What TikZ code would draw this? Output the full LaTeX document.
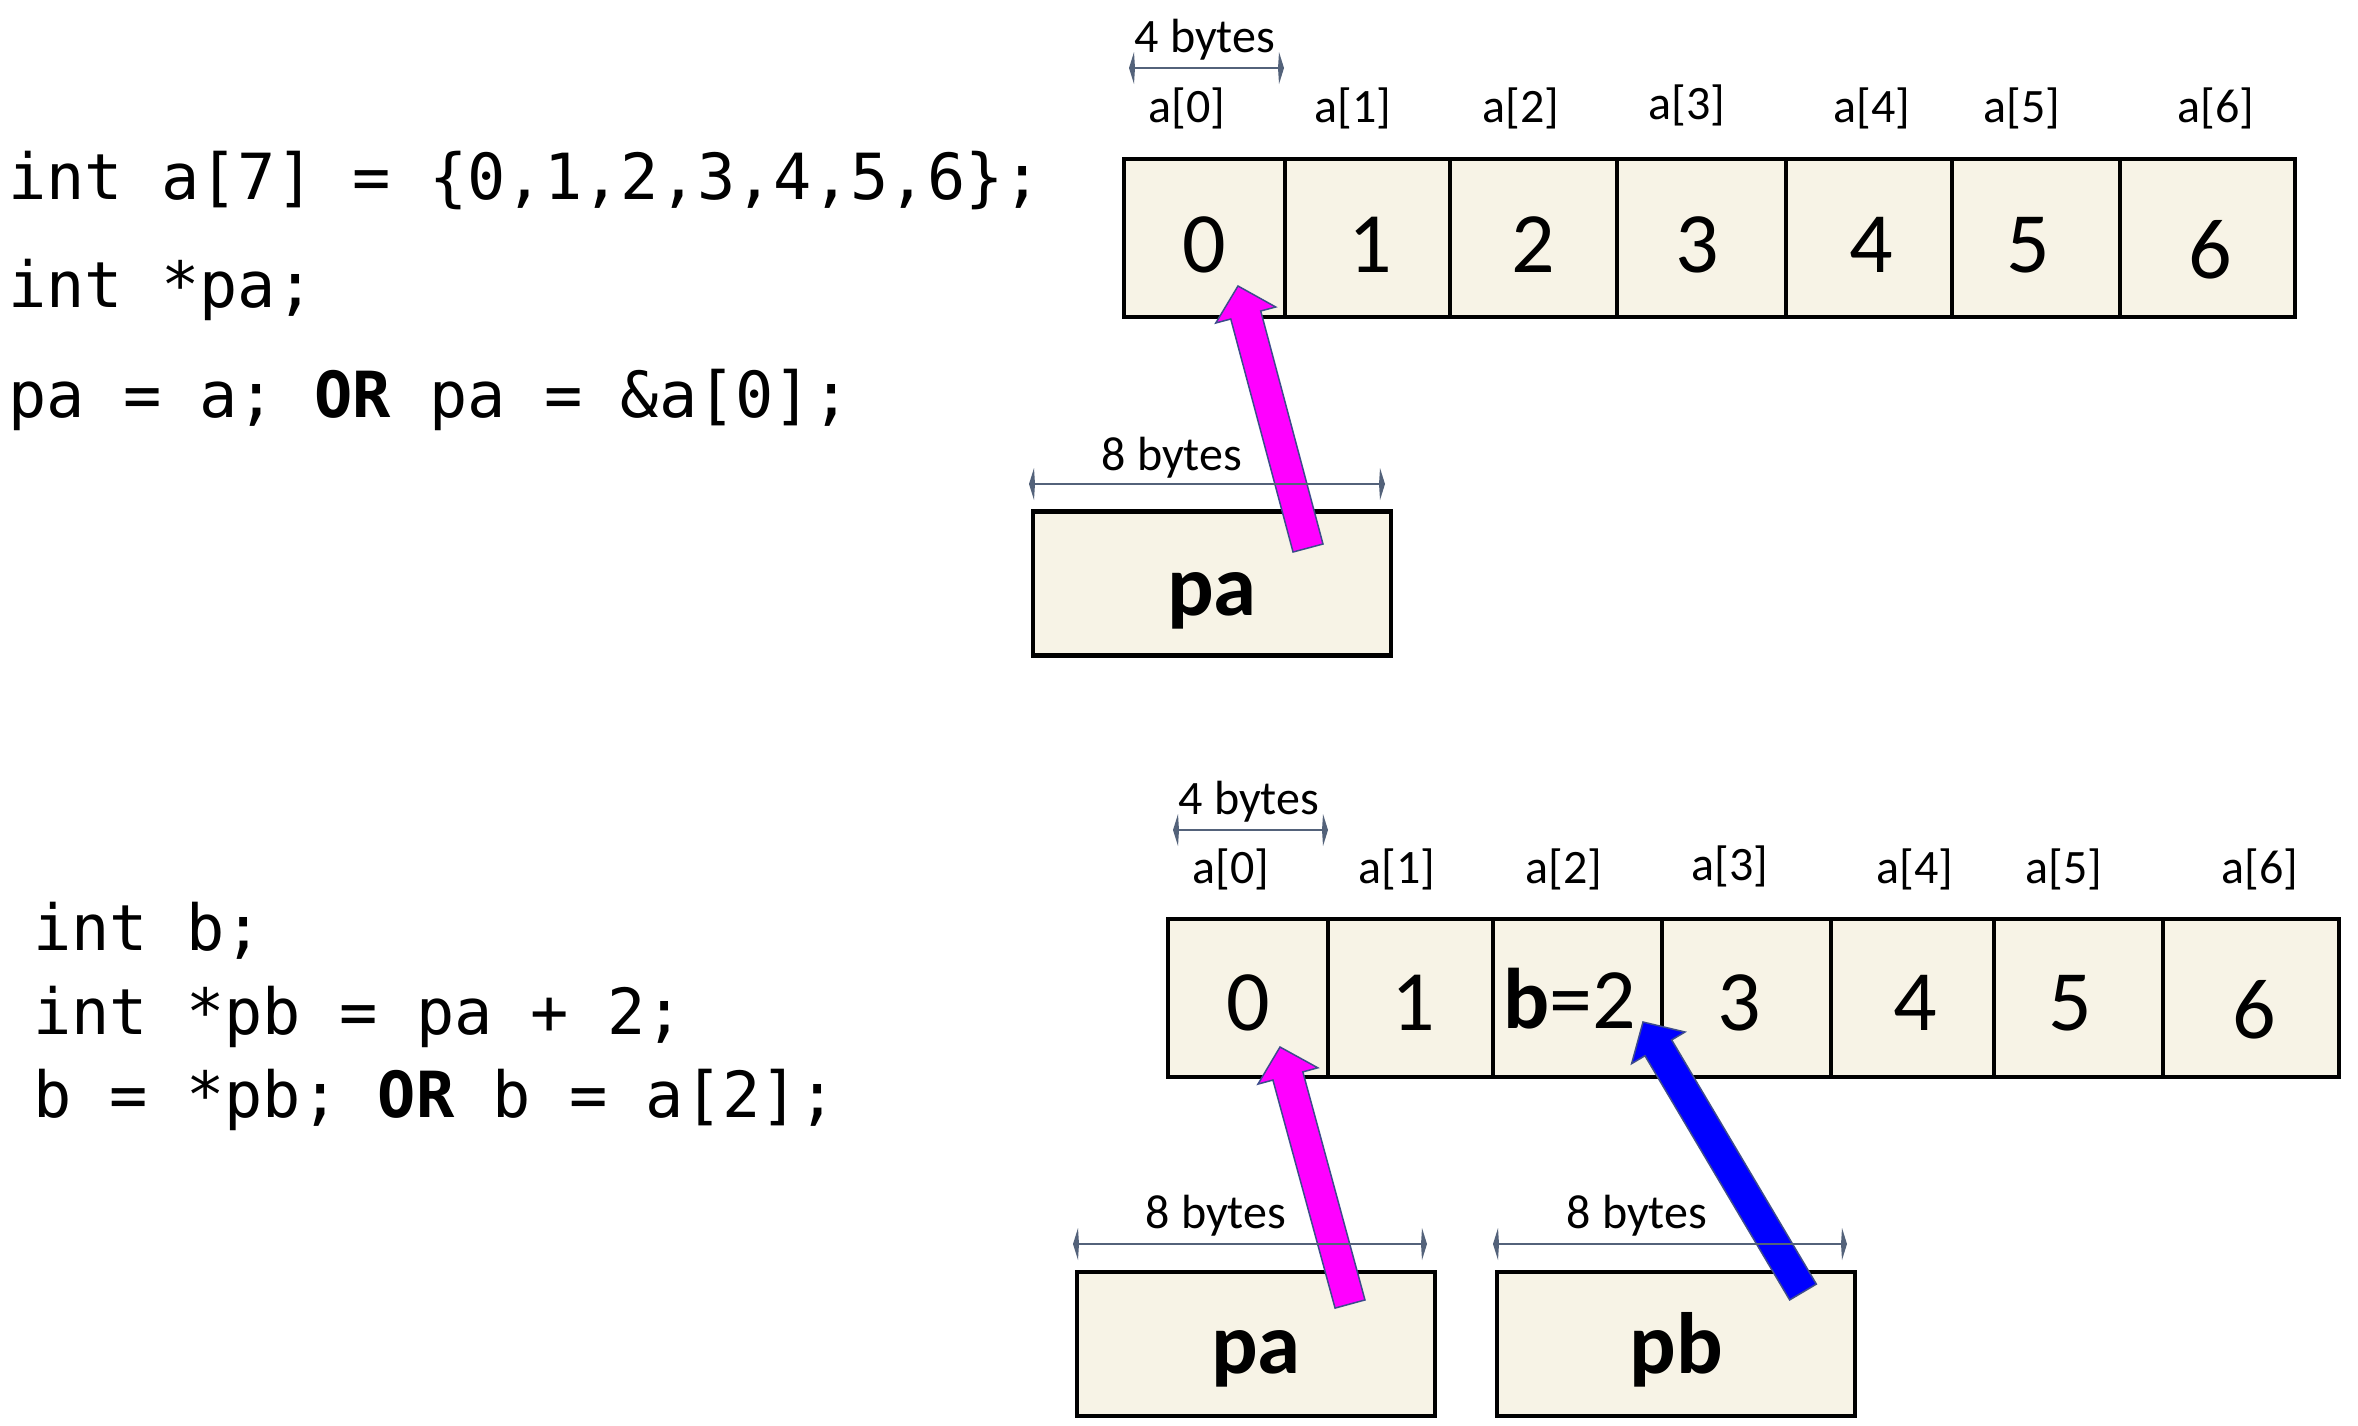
\documentclass[tikz,border=0pt]{standalone}
\usepackage{fontspec}
\setmainfont{Carlito}
\newfontfamily\codefont{DejaVu Sans Mono}
\usetikzlibrary{arrows.meta,calc}
\definecolor{cream}{HTML}{F7F3E6}
\definecolor{dimc}{HTML}{53627A}
\definecolor{arrowedge}{HTML}{3E4C8C}
\definecolor{mag}{HTML}{FF00FF}
\definecolor{blu}{HTML}{0000FF}
\newcommand\ptrarrow[4]{%
  \coordinate (#1B) at ($(#3)!30pt!(#2)$);
  \draw[blockarrow, fill=#4] ($(#2)!15.5pt!90:(#3)$) -- ($(#1B)!15.5pt!90:(#3)$) -- ($(#1B)!31pt!90:(#3)$) -- (#3) -- ($(#1B)!31pt!-90:(#3)$) -- ($(#1B)!15.5pt!-90:(#3)$) -- ($(#2)!15.5pt!-90:(#3)$) -- cycle;}
\newcommand\dimarrow[2]{%
  \draw[dimline] (#1) -- (#2);
  \fill[dimc] (#1) -- ($(#1)+(5,-16)$) -- ($(#1)+(6,0)$) -- ($(#1)+(5,16)$) -- cycle;
  \fill[dimc] (#2) -- ($(#2)+(-5,-16)$) -- ($(#2)+(-6,0)$) -- ($(#2)+(-5,16)$) -- cycle;}
\begin{document}
\begin{tikzpicture}[x=1pt,y=-1pt,
  cellbox/.style={draw=black, fill=cream, line width=4.5pt, inner sep=0, minimum height=158pt},
  ptrbox/.style={draw=black, fill=cream, line width=4.5pt, inner sep=0, minimum width=358pt, minimum height=144pt},
  digit/.style={font=\fontsize{86}{90}\selectfont, anchor=base, inner sep=0},
  ptrname/.style={font=\fontsize{87}{90}\selectfont\bfseries, anchor=base, inner sep=0},
  idx/.style={font=\fontsize{48}{52}\selectfont, anchor=base, inner sep=0},
  code/.style={font=\codefont\fontsize{63.6}{70}\selectfont, anchor=base west, inner sep=0},
  dimline/.style={draw=dimc, line width=2.5pt},
  blockarrow/.style={draw=arrowedge, line width=1.5pt, line join=miter},
]
\useasboundingbox[fill=white] (0,0) rectangle (2358,1425);

% ---------- top array ----------
\node[cellbox, minimum width=161pt] (ta0) at (1204.5,238) {};
\node[cellbox, minimum width=165pt] (ta1) at (1367.5,238) {};
\node[cellbox, minimum width=167pt] (ta2) at (1533.5,238) {};
\node[cellbox, minimum width=169pt] (ta3) at (1701.5,238) {};
\node[cellbox, minimum width=166pt] (ta4) at (1869,238) {};
\node[cellbox, minimum width=168pt] (ta5) at (2036,238) {};
\node[cellbox, minimum width=175pt] (ta6) at (2207.5,238) {};

% ---------- bottom array ----------
\node[cellbox, minimum width=160pt] (ba0) at (1248,998) {};
\node[cellbox, minimum width=165pt] (ba1) at (1410.5,998) {};
\node[cellbox, minimum width=169pt] (ba2) at (1577.5,998) {};
\node[cellbox, minimum width=169pt] (ba3) at (1746.5,998) {};
\node[cellbox, minimum width=163pt] (ba4) at (1912.5,998) {};
\node[cellbox, minimum width=169pt] (ba5) at (2078.5,998) {};
\node[cellbox, minimum width=176pt] (ba6) at (2251,998) {};

% ---------- pointer boxes ----------
\node[ptrbox] (pa1) at (1212,583.5) {};
\node[ptrbox] (pa2) at (1256,1344) {};
\node[ptrbox] (pb2) at (1676,1344) {};

% ---------- arrows ----------
\coordinate (paTailA) at (1308,548);
\coordinate (paTipA) at (1238,286);
\coordinate (paTailB) at (1350,1304);
\coordinate (paTipB) at (1280,1047);
\coordinate (pbTail) at (1803,1292);
\coordinate (pbTip) at (1643,1022);
\ptrarrow{arA}{paTailA}{paTipA}{mag}
\ptrarrow{arB}{paTailB}{paTipB}{mag}
\ptrarrow{arC}{pbTail}{pbTip}{blu}

% ---------- dimension lines ----------
\coordinate (d1a) at (1129,68);  \coordinate (d1b) at (1284,68);
\coordinate (d2a) at (1029,484); \coordinate (d2b) at (1385,484);
\coordinate (d3a) at (1173,830); \coordinate (d3b) at (1328,830);
\coordinate (d4a) at (1073,1244); \coordinate (d4b) at (1427,1244);
\coordinate (d5a) at (1493,1244); \coordinate (d5b) at (1847,1244);
\dimarrow{d1a}{d1b}
\dimarrow{d2a}{d2b}
\dimarrow{d3a}{d3b}
\dimarrow{d4a}{d4b}
\dimarrow{d5a}{d5b}

% ---------- size labels ----------
\node[idx] (s1) at (1205,52) {4 bytes};
\node[idx] (s2) at (1172,470) {8 bytes};
\node[idx] (s3) at (1249,814) {4 bytes};
\node[idx] (s4) at (1216,1228) {8 bytes};
\node[idx] (s5) at (1637,1228) {8 bytes};

% ---------- index labels ----------
\node[idx] (ti0) at (1187,122) {a[0]};
\node[idx] (ti1) at (1353,122) {a[1]};
\node[idx] (ti2) at (1521,122) {a[2]};
\node[idx] (ti3) at (1687,119) {a[3]};
\node[idx] (ti4) at (1872,122) {a[4]};
\node[idx] (ti5) at (2022,122) {a[5]};
\node[idx] (ti6) at (2216,122) {a[6]};
\node[idx] (bi0) at (1231,883) {a[0]};
\node[idx] (bi1) at (1397,883) {a[1]};
\node[idx] (bi2) at (1564,883) {a[2]};
\node[idx] (bi3) at (1730,880) {a[3]};
\node[idx] (bi4) at (1915,883) {a[4]};
\node[idx] (bi5) at (2064,883) {a[5]};
\node[idx] (bi6) at (2260,883) {a[6]};

% ---------- cell values ----------
\node[digit] (tv0) at (1204,272) {0};
\node[digit] (tv1) at (1370,272) {1};
\node[digit] (tv2) at (1533,272) {2};
\node[digit] (tv3) at (1697,272) {3};
\node[digit] (tv4) at (1871,272) {4};
\node[digit] (tv5) at (2028,272) {5};
\node[digit] (tv6) at (2210,278) {6};
\node[digit] (bv0) at (1248,1030) {0};
\node[digit] (bv1) at (1413,1030) {1};
\node[digit] (bv2) at (1570,1028) {{\bfseries b}=2};
\node[digit] (bv3) at (1739,1030) {3};
\node[digit] (bv4) at (1915,1030) {4};
\node[digit] (bv5) at (2070,1030) {5};
\node[digit] (bv6) at (2254,1038) {6};

% ---------- pointer names ----------
\node[ptrname] (pat1) at (1212,615) {pa};
\node[ptrname] (pat2) at (1256,1373) {pa};
\node[ptrname] (pbt2) at (1676,1373) {pb};

% ---------- code ----------
\node[code] (c1) at (8,199) {int a[7] = \{0,1,2,3,4,5,6\};};
\node[code] (c2) at (8,307) {int *pa;};
\node[code] (c3) at (8,417) {pa = a; {\bfseries OR} pa = \&a[0];};
\node[code] (c4) at (33,950) {int b;};
\node[code] (c5) at (33,1034) {int *pb = pa + 2;};
\node[code] (c6) at (33,1117) {b = *pb; {\bfseries OR} b = a[2];};
\end{tikzpicture}
\end{document}
